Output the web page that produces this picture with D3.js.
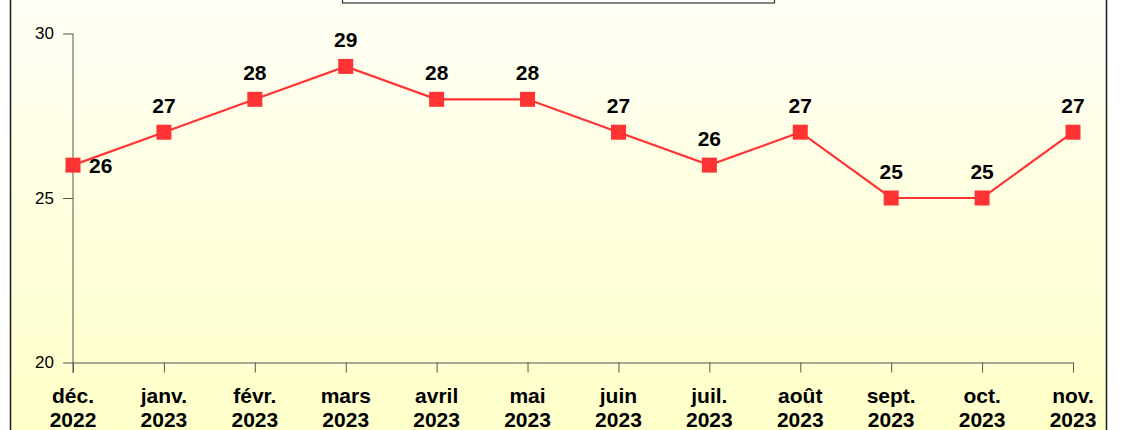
<!DOCTYPE html>
<html>
<head>
<meta charset="utf-8">
<script src="https://cdn.jsdelivr.net/npm/d3@7"></script>
<style>
  body { margin: 0; background: #fff; }
  svg { display: block; font-family: "Liberation Sans", Arial, sans-serif; }
</style>
</head>
<body>
<div id="chart"></div>
<script>
var w = 1124;
var h = 430;

// data
var months = ['déc.', 'janv.', 'févr.', 'mars', 'avril', 'mai', 'juin', 'juil.', 'août', 'sept.', 'oct.', 'nov.'];
var years = ['2022', '2023', '2023', '2023', '2023', '2023', '2023', '2023', '2023', '2023', '2023', '2023'];
var values = [26, 27, 28, 29, 28, 28, 27, 26, 27, 25, 25, 27];
var yTicks = [20, 25, 30];

var svg = d3.select("#chart")
  .append("svg")
  .attr("width", w)
  .attr("height", h);

var defs = svg.append("defs");
var grad = defs.append("linearGradient")
  .attr("id", "bg")
  .attr("x1", 0).attr("y1", 0).attr("x2", 0).attr("y2", 1);
grad.append("stop").attr("offset", "0%").attr("stop-color", "#fffff6");
grad.append("stop").attr("offset", "100%").attr("stop-color", "#ffffc8");

// chart area background + frame
svg.append("rect")
  .attr("x", 10.5).attr("y", -5)
  .attr("width", 1096).attr("height", h + 10)
  .attr("fill", "url(#bg)")
  .attr("stroke", "#1a1a1a")
  .attr("stroke-width", 1.5);

// title / legend box cut off at the top
svg.append("rect")
  .attr("x", 342.5).attr("y", -10)
  .attr("width", 432).attr("height", 13)
  .attr("fill", "#ffffff")
  .attr("stroke", "#333")
  .attr("stroke-width", 1.2);

var x = d3.scalePoint()
  .domain(d3.range(months.length))
  .range([73, 1073]);

var y = d3.scaleLinear()
  .domain([20, 30])
  .range([362.5, 33.5]);

// y axis
var yAxis = d3.axisLeft(y)
  .tickValues(yTicks)
  .tickSize(10)
  .tickPadding(9)
  .tickSizeOuter(0);

var gy = svg.append("g")
  .attr("transform", "translate(73,0)")
  .call(yAxis);
gy.attr("font-size", null).attr("font-family", null);
gy.select(".domain").attr("stroke", "#555").attr("d", "M0," + y(30) + "V373");
gy.selectAll(".tick line").attr("stroke", "#555");
gy.selectAll(".tick text")
  .style("font-size", "17px")
  .attr("fill", "#000");

// x axis
var xAxis = d3.axisBottom(x)
  .tickSize(10)
  .tickSizeOuter(0)
  .tickFormat("");

var gx = svg.append("g")
  .attr("transform", "translate(0," + y(20) + ")")
  .call(xAxis);
gx.select(".domain").attr("stroke", "#555");
gx.selectAll(".tick line").attr("stroke", "#555");

var xl = svg.append("g").selectAll("text")
  .data(months)
  .enter()
  .append("text")
  .attr("x", function(d, i) { return x(i); })
  .attr("text-anchor", "middle")
  .style("font-size", "21px")
  .attr("font-weight", "bold")
  .attr("fill", "#000");
xl.append("tspan")
  .attr("x", function(d, i) { return x(i); })
  .attr("y", 403)
  .text(function(d) { return d; });
xl.append("tspan")
  .attr("x", function(d, i) { return x(i); })
  .attr("y", 426.5)
  .text(function(d, i) { return years[i]; });

// line
var line = d3.line()
  .x(function(d, i) { return x(i); })
  .y(function(d) { return y(d); });

svg.append("path")
  .datum(values)
  .attr("d", line)
  .attr("fill", "none")
  .attr("stroke", "#ff3333")
  .attr("stroke-width", 2.2);

// markers
svg.selectAll("rect.pt")
  .data(values)
  .enter()
  .append("rect")
  .attr("class", "pt")
  .attr("x", function(d, i) { return x(i) - 7.5; })
  .attr("y", function(d) { return y(d) - 7.5; })
  .attr("width", 15)
  .attr("height", 15)
  .attr("fill", "#ff3333");

// value labels
svg.selectAll("text.val")
  .data(values)
  .enter()
  .append("text")
  .attr("class", "val")
  .attr("x", function(d, i) { return i == 0 ? x(i) + 16 : x(i); })
  .attr("y", function(d, i) { return i == 0 ? y(d) + 8 : y(d) - 19.5; })
  .attr("text-anchor", function(d, i) { return i == 0 ? "start" : "middle"; })
  .style("font-size", "21px")
  .attr("font-weight", "bold")
  .attr("fill", "#000")
  .text(function(d) { return d; });
</script>
</body>
</html>
